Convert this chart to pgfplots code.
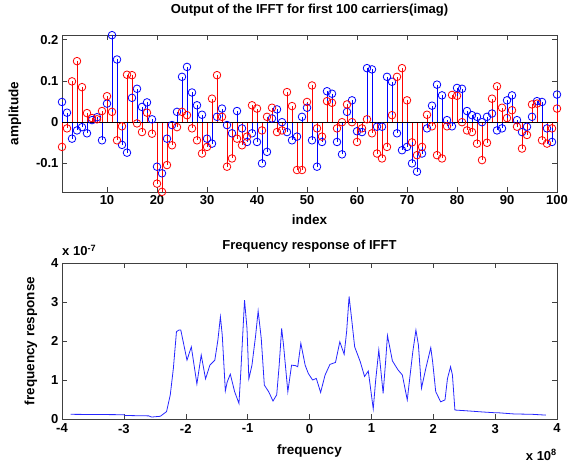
\documentclass[border=0pt]{standalone}
\usepackage{fontspec}
\setmainfont{Liberation Sans}
\usepackage{pgfplots}
\usepackage{pgfplotstable}
\pgfplotsset{compat=1.18}
\pgfplotstableread{
i blue red
1 0.049 -0.060
2 0.023 -0.015
3 -0.040 0.099
4 -0.020 0.148
5 -0.012 0.085
6 -0.027 0.022
7 0.005 0.010
8 0.012 0.007
9 -0.044 0.027
10 0.045 0.063
11 0.211 0.025
12 0.152 -0.044
13 -0.055 -0.010
14 -0.074 0.115
15 0.059 0.114
16 0.081 -0.003
17 0.037 -0.024
18 0.048 0.023
19 0.007 -0.028
20 -0.108 -0.149
21 -0.124 -0.169
22 -0.040 -0.104
23 -0.007 -0.056
24 0.025 -0.012
25 0.110 0.025
26 0.134 0.017
27 0.072 -0.015
28 0.041 -0.044
29 0.018 -0.076
30 -0.040 -0.060
31 -0.052 0.057
32 0.013 0.114
33 0.033 0.013
34 -0.007 -0.108
35 -0.027 -0.088
36 0.027 -0.040
37 -0.015 -0.056
38 -0.048 -0.035
39 -0.027 0.041
40 -0.048 0.033
41 -0.100 -0.020
42 -0.072 0.013
43 0.009 0.035
44 0.031 -0.024
45 0.000 -0.020
46 -0.024 0.073
47 -0.044 0.039
48 -0.035 -0.116
49 0.013 -0.116
50 0.035 0.049
51 -0.044 0.089
52 -0.108 -0.015
53 -0.048 -0.035
54 0.075 0.051
55 0.069 0.047
56 -0.048 -0.015
57 -0.078 0.000
58 0.025 0.043
59 0.053 0.000
60 -0.022 -0.048
61 -0.024 -0.015
62 0.131 0.007
63 0.128 -0.027
64 -0.011 -0.076
65 -0.011 -0.088
66 0.110 -0.060
67 0.098 0.017
68 -0.027 0.110
69 -0.068 0.131
70 -0.060 0.053
71 -0.100 -0.049
72 -0.120 -0.080
73 -0.076 -0.060
74 -0.015 0.018
75 0.040 -0.010
76 0.091 -0.080
77 0.065 -0.088
78 0.005 -0.010
79 -0.010 0.066
80 0.083 0.064
81 0.081 0.000
82 0.027 -0.020
83 0.017 -0.024
84 0.013 -0.052
85 0.000 -0.092
86 0.013 -0.050
87 0.021 0.057
88 -0.020 0.087
89 -0.015 0.035
90 0.053 0.010
91 0.065 0.029
92 0.005 -0.011
93 -0.024 -0.064
94 -0.011 -0.031
95 0.013 0.043
96 0.051 0.045
97 0.049 -0.044
98 -0.015 -0.052
99 -0.048 -0.015
100 0.067 0.033
}\stemdata
\pgfplotstableread{
f r
-3.86 0.12
-3.00 0.11
-2.98 0.09
-2.60 0.08
-2.55 0.05
-2.41 0.07
-2.31 0.19
-2.25 0.62
-2.20 1.30
-2.15 2.24
-2.11 2.28
-2.08 2.28
-1.98 1.51
-1.91 1.85
-1.82 0.90
-1.75 1.64
-1.68 1.03
-1.61 1.38
-1.53 1.51
-1.48 2.03
-1.44 2.62
-1.41 2.15
-1.36 0.72
-1.33 0.95
-1.28 1.15
-1.21 0.70
-1.14 0.40
-1.11 1.21
-1.05 3.05
-1.01 2.32
-0.98 1.03
-0.93 1.38
-0.87 2.15
-0.83 2.77
-0.78 2.07
-0.73 0.87
-0.66 0.70
-0.59 0.46
-0.53 0.62
-0.49 1.38
-0.45 2.32
-0.42 1.90
-0.35 0.70
-0.29 1.38
-0.23 1.37
-0.19 1.34
-0.14 1.94
-0.07 1.38
-0.02 1.17
0.05 1.00
0.11 1.04
0.18 0.68
0.25 1.12
0.33 1.40
0.42 1.45
0.49 1.98
0.56 1.66
0.60 2.24
0.64 3.14
0.68 2.58
0.73 1.85
0.82 1.47
0.89 1.09
0.95 1.23
0.98 0.87
1.03 0.26
1.07 1.00
1.12 1.77
1.19 0.66
1.23 1.47
1.26 2.14
1.34 1.49
1.43 1.26
1.50 1.13
1.58 0.49
1.67 1.73
1.72 2.28
1.76 1.90
1.81 0.79
1.88 1.30
1.96 1.83
1.99 1.47
2.04 0.70
2.12 0.44
2.19 0.49
2.23 1.04
2.28 1.34
2.31 1.13
2.35 0.23
2.54 0.21
2.80 0.18
3.00 0.16
3.05 0.16
3.30 0.13
3.60 0.12
3.82 0.10
}\freqdata
\begin{document}
\begin{tikzpicture}
\useasboundingbox (0pt,0pt) rectangle (570pt,463pt);
\pgfplotsset{
  every axis title shift=0pt,
  every axis/.append style={
    scale only axis,
    width=495pt,
    axis line style={black!75},
    every tick/.style={black!75},
    tick align=inside,
    major tick length=5pt,
    font=\fontsize{13}{15}\selectfont\bfseries,
    tick label style={font=\fontsize{13}{15}\selectfont\bfseries},
    /pgf/number format/assume math mode=true,
    title style={font=\fontsize{13}{15}\selectfont\bfseries},
    label style={font=\fontsize{13.5}{15}\selectfont\bfseries},
  }
}
\begin{axis}[
  at={(62pt,271pt)}, anchor=south west,
  height=157pt,
  xmin=1, xmax=100, ymin=-0.1693, ymax=0.2114,
  xtick={10,20,...,100},
  ytick={-0.1,0,0.1,0.2},
  yticklabels={-0.1,0,0.1,0.2},
  clip=false,
  title={Output of the IFFT for first 100 carriers(imag)},
  title style={at={(axis description cs:0.5,1.155)},anchor=center},
  xlabel={index},
  xlabel style={at={(axis description cs:0.5,-0.178)},anchor=center},
  ylabel={amplitude},
  ylabel style={at={(axis description cs:-0.095,0.5)},anchor=center},
]
\addplot[blue, line width=0.8pt, ycomb, mark=o, mark size=3.8pt, mark options={line width=0.8pt}] table[x=i,y=blue] {\stemdata};
\addplot[red, line width=0.8pt, ycomb, mark=o, mark size=3.8pt, mark options={line width=0.8pt}] table[x=i,y=red] {\stemdata};
\addplot[black, line width=0.9pt, no marks] coordinates {(1,0) (100,0)};
\end{axis}
\begin{axis}[
  at={(62pt,44pt)}, anchor=south west,
  height=156pt,
  xmin=-4, xmax=4, ymin=0, ymax=4,
  xtick={-4,-3,...,4},
  ytick={0,1,2,3,4},
  xticklabel style={yshift=-1.5pt},
  clip=false,
  title={Frequency response of IFFT},
  title style={at={(axis description cs:0.5,1.109)},anchor=center},
  xlabel={frequency},
  xlabel style={at={(axis description cs:0.5,-0.205)},anchor=center},
  ylabel={frequency response},
  ylabel style={at={(axis description cs:-0.063,0.5)},anchor=center},
]
\addplot[blue!85!white, line width=0.8pt, no marks] table[x=f,y=r] {\freqdata};
\node[anchor=base west, inner sep=0pt, font=\fontsize{13}{15}\selectfont\bfseries] at (rel axis cs:0,1) [yshift=7pt] {x 10\textsuperscript{-7}};
\node[anchor=base east, inner sep=0pt, font=\fontsize{13}{15}\selectfont\bfseries] at (rel axis cs:1,0) [yshift=-41pt] {x 10\textsuperscript{8}};
\end{axis}
\end{tikzpicture}
\end{document}
